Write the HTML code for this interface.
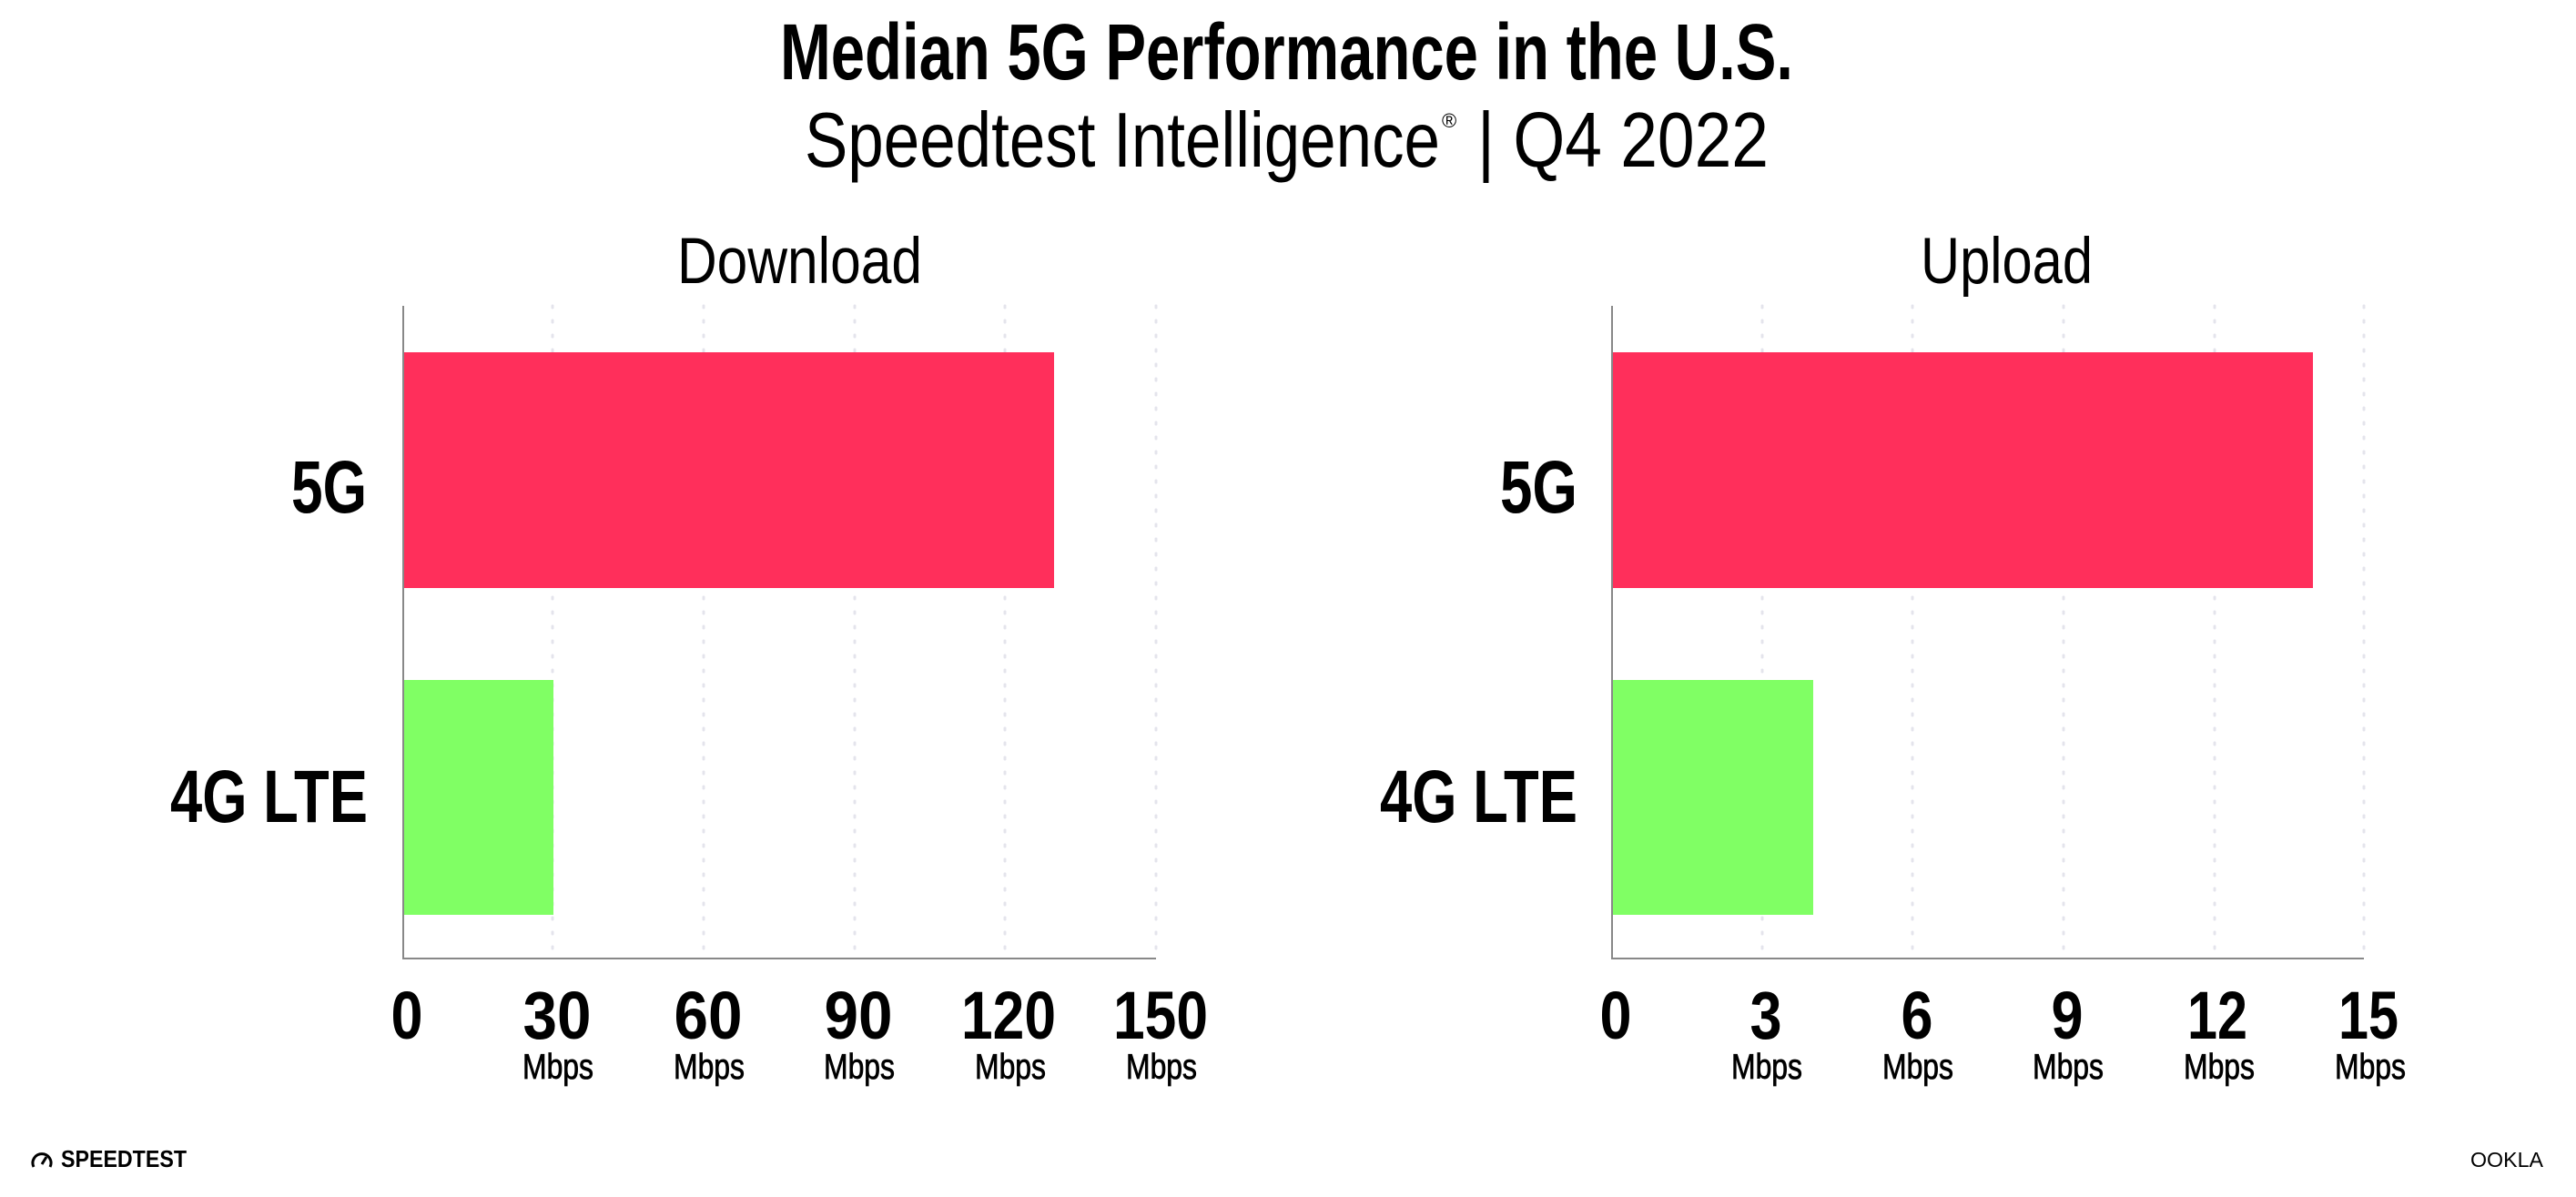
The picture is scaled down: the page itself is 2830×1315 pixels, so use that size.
<!DOCTYPE html>
<html><head><meta charset="utf-8"><style>
html,body{margin:0;padding:0;background:#fff;}
svg{display:block;}
text{font-family:"Liberation Sans",sans-serif;fill:#000;}
</style></head><body>
<svg width="2830" height="1315" viewBox="0 0 2830 1315" xmlns="http://www.w3.org/2000/svg">
<rect width="2830" height="1315" fill="#fff"/>
<text x="857" y="87" font-size="87" font-weight="bold" textLength="1113" lengthAdjust="spacingAndGlyphs">Median 5G Performance in the U.S.</text>
<text x="884" y="183" font-size="85" textLength="698" lengthAdjust="spacingAndGlyphs">Speedtest Intelligence</text>
<text x="1584" y="140" font-size="22">®</text>
<text x="1623" y="183" font-size="85" textLength="320" lengthAdjust="spacingAndGlyphs">| Q4 2022</text>

<text x="744" y="311" font-size="71" textLength="269" lengthAdjust="spacingAndGlyphs">Download</text>
<g stroke="#e4e4ec" stroke-width="3" stroke-dasharray="2 14" stroke-linecap="round">
<line x1="607" y1="336" x2="607" y2="1053"/><line x1="773" y1="336" x2="773" y2="1053"/>
<line x1="939" y1="336" x2="939" y2="1053"/><line x1="1104" y1="336" x2="1104" y2="1053"/>
<line x1="1270" y1="336" x2="1270" y2="1053"/>
</g>
<rect x="443" y="387" width="715" height="259" fill="#ff2f5b"/>
<rect x="443" y="747" width="165" height="258" fill="#80ff64"/>
<line x1="443" y1="336" x2="443" y2="1054" stroke="#888" stroke-width="2"/>
<line x1="442" y1="1053" x2="1270" y2="1053" stroke="#888" stroke-width="2"/>
<text x="320" y="563" font-size="82" font-weight="bold" textLength="83" lengthAdjust="spacingAndGlyphs">5G</text>
<text x="187" y="903" font-size="82" font-weight="bold" textLength="217" lengthAdjust="spacingAndGlyphs">4G LTE</text>
<g font-size="74" font-weight="bold" text-anchor="middle" lengthAdjust="spacingAndGlyphs">
<text x="447" y="1141" textLength="35" lengthAdjust="spacingAndGlyphs">0</text>
<text x="612" y="1141" textLength="75" lengthAdjust="spacingAndGlyphs">30</text>
<text x="778" y="1141" textLength="75" lengthAdjust="spacingAndGlyphs">60</text>
<text x="943" y="1141" textLength="75" lengthAdjust="spacingAndGlyphs">90</text>
<text x="1108" y="1141" textLength="104" lengthAdjust="spacingAndGlyphs">120</text>
<text x="1275" y="1141" textLength="104" lengthAdjust="spacingAndGlyphs">150</text>
</g>
<g font-size="39" text-anchor="middle" stroke="#000" stroke-width="0.8">
<text x="613" y="1185" textLength="78" lengthAdjust="spacingAndGlyphs">Mbps</text>
<text x="779" y="1185" textLength="78" lengthAdjust="spacingAndGlyphs">Mbps</text>
<text x="944" y="1185" textLength="78" lengthAdjust="spacingAndGlyphs">Mbps</text>
<text x="1110" y="1185" textLength="78" lengthAdjust="spacingAndGlyphs">Mbps</text>
<text x="1276" y="1185" textLength="78" lengthAdjust="spacingAndGlyphs">Mbps</text>
</g>

<text x="2110" y="311" font-size="71" textLength="189" lengthAdjust="spacingAndGlyphs">Upload</text>
<g stroke="#e4e4ec" stroke-width="3" stroke-dasharray="2 14" stroke-linecap="round">
<line x1="1936" y1="336" x2="1936" y2="1053"/><line x1="2101" y1="336" x2="2101" y2="1053"/>
<line x1="2267" y1="336" x2="2267" y2="1053"/><line x1="2433" y1="336" x2="2433" y2="1053"/>
<line x1="2597" y1="336" x2="2597" y2="1053"/>
</g>
<rect x="1771" y="387" width="770" height="259" fill="#ff2f5b"/>
<rect x="1771" y="747" width="221" height="258" fill="#80ff64"/>
<line x1="1771" y1="336" x2="1771" y2="1054" stroke="#888" stroke-width="2"/>
<line x1="1770" y1="1053" x2="2597" y2="1053" stroke="#888" stroke-width="2"/>
<text x="1648" y="563" font-size="82" font-weight="bold" textLength="85" lengthAdjust="spacingAndGlyphs">5G</text>
<text x="1516" y="903" font-size="82" font-weight="bold" textLength="217" lengthAdjust="spacingAndGlyphs">4G LTE</text>
<g font-size="74" font-weight="bold" text-anchor="middle">
<text x="1775" y="1141" textLength="35" lengthAdjust="spacingAndGlyphs">0</text>
<text x="1940" y="1141" textLength="35" lengthAdjust="spacingAndGlyphs">3</text>
<text x="2106" y="1141" textLength="35" lengthAdjust="spacingAndGlyphs">6</text>
<text x="2271" y="1141" textLength="35" lengthAdjust="spacingAndGlyphs">9</text>
<text x="2436" y="1141" textLength="66" lengthAdjust="spacingAndGlyphs">12</text>
<text x="2602" y="1141" textLength="66" lengthAdjust="spacingAndGlyphs">15</text>
</g>
<g font-size="39" text-anchor="middle" stroke="#000" stroke-width="0.8">
<text x="1941" y="1185" textLength="78" lengthAdjust="spacingAndGlyphs">Mbps</text>
<text x="2107" y="1185" textLength="78" lengthAdjust="spacingAndGlyphs">Mbps</text>
<text x="2272" y="1185" textLength="78" lengthAdjust="spacingAndGlyphs">Mbps</text>
<text x="2438" y="1185" textLength="78" lengthAdjust="spacingAndGlyphs">Mbps</text>
<text x="2604" y="1185" textLength="78" lengthAdjust="spacingAndGlyphs">Mbps</text>
</g>

<path d="M37 1282 A10 10 0 1 1 55 1282" fill="none" stroke="#000" stroke-width="3"/>
<line x1="46" y1="1279" x2="51" y2="1271" stroke="#000" stroke-width="3"/>
<text x="67" y="1282" font-size="26" font-weight="bold" textLength="138" lengthAdjust="spacingAndGlyphs">SPEEDTEST</text>
<text x="2714" y="1282" font-size="23" textLength="80" lengthAdjust="spacingAndGlyphs">OOKLA</text>
</svg>
</body></html>
